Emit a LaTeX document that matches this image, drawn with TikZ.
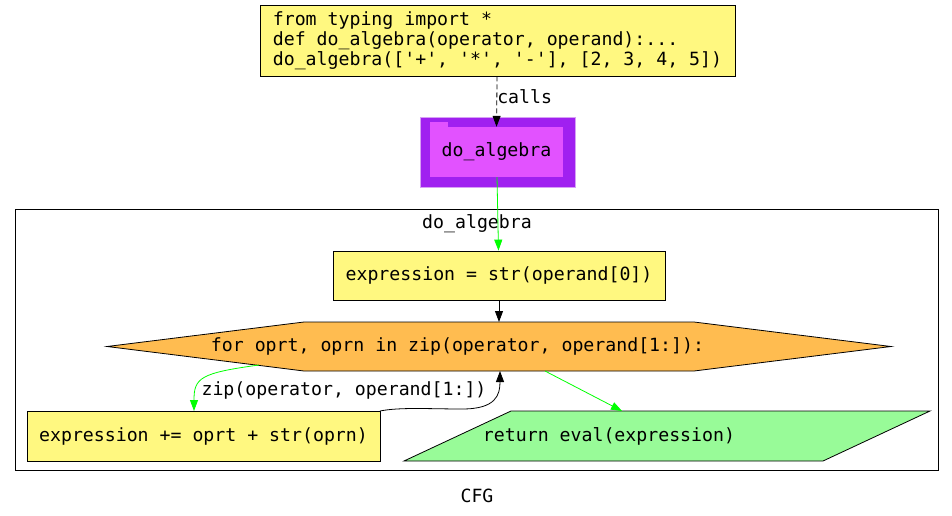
\documentclass[tikz,border=0pt]{standalone}
\usepackage{fontspec}
\setmonofont{DejaVu Sans Mono}
\usetikzlibrary{arrows.meta}
\definecolor{nodeyellow}{HTML}{FFF880}
\definecolor{looporange}{HTML}{FFBC50}
\definecolor{retgreen}{HTML}{98FB98}
\definecolor{foldout}{HTML}{A020F0}
\definecolor{foldin}{HTML}{E252FF}
\definecolor{foldline}{HTML}{D7A0F5}
\definecolor{edgegreen}{HTML}{00FF00}
\tikzset{
  base/.style={font=\ttfamily\fontsize{18.2}{20}\selectfont},
  stmt/.style={base, draw=black, fill=nodeyellow, line width=0.8pt, inner sep=0pt},
  plain/.style={base, inner sep=0pt},
  arr/.style={line width=0.8pt, -{Triangle[length=11pt,width=8pt]}},
  garr/.style={arr, draw=edgegreen},
  karr/.style={arr, draw=black},
}
\begin{document}
\begin{tikzpicture}[x=1pt,y=-1pt]
\useasboundingbox (0,0) rectangle (952,516);
\fill[white] (0,0) rectangle (952,516);
% top source node
\node[stmt, minimum width=475, minimum height=71, align=left] (src) at (497.5,40.5)
  {from typing import *\\def do\_algebra(operator, operand):...\\do\_algebra(['+', '*', '-'], [2, 3, 4, 5])};
% folder node
\fill[foldout] (420,117) rectangle (575,187);
\draw[foldline, line width=0.8pt] (420,117) rectangle (575,187);
\fill[foldin] (430,122) rectangle (448,128);
\node[plain, fill=foldin, minimum width=133, minimum height=50] (fold) at (496.5,152) {do\_algebra};
% cluster
\draw[line width=0.8pt] (15,209) rectangle (938,470);
\node[plain] (clabel) at (477,224) {do\_algebra};
% first statement
\node[stmt, minimum width=332, minimum height=49] (e1) at (499,275.5) {expression = str(operand[0])};
% loop hexagon
\draw[fill=looporange, line width=0.8pt] (107,346.5) -- (304,322) -- (694,322) -- (891,346.5) -- (694,371) -- (304,371) -- cycle;
\node[plain] (loop) at (457.5,346.5) {for oprt, oprn in zip(operator, operand[1:]):};
\coordinate (looptop) at (499,322);
\coordinate (loopbot) at (500,371);
\coordinate (loopleft) at (259,365);
\coordinate (loopright) at (545,371);
% body statement
\node[stmt, minimum width=353, minimum height=50] (e2) at (203.5,436) {expression += oprt + str(oprn)};
\coordinate (e2top) at (194,411);
\coordinate (e2corner) at (380,411);
% return parallelogram
\draw[fill=retgreen, line width=0.8pt] (511,411) -- (930,411) -- (823,461) -- (404,461) -- cycle;
\node[plain] (ret) at (609,436) {return eval(expression)};
\coordinate (rettop) at (622,411);
% edges
\draw[karr, dash pattern=on 5pt off 3pt] (src) -- (fold.north) node[plain, pos=0.4, anchor=west] (calls) {calls};
\draw[garr] (fold) -- (e1);
\draw[karr] (e1) -- (looptop);
\draw[garr] (loopleft) .. controls (200,373) and (194,378) .. (e2top);
\node[plain] (ziplbl) at (344,390) {zip(operator, operand[1:])};
\draw[karr] (e2corner) .. controls (400,407) and (430,409) .. (462,409) .. controls (496,409) and (500,395) .. (loopbot);
\draw[garr] (loopright) -- (rettop);
\node[plain] (cfg) at (477,496) {CFG};
\end{tikzpicture}
\end{document}
